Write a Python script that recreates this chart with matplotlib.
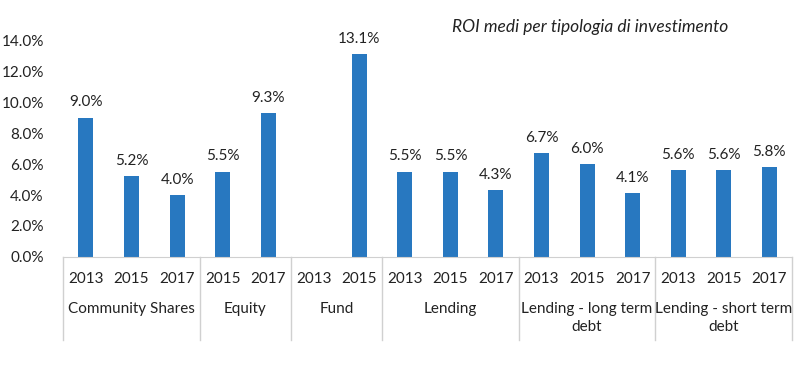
import numpy as np
import matplotlib
matplotlib.use("Agg")
import matplotlib.pyplot as plt
from matplotlib.transforms import blended_transform_factory

plt.rcParams['font.family'] = ['Lato', 'DejaVu Sans']

groups = ["Community Shares", "Equity", "Fund", "Lending",
          "Lending - long term\ndebt", "Lending - short term\ndebt"]
years = [["2013", "2015", "2017"], ["2015", "2017"], ["2013", "2015"],
         ["2013", "2015", "2017"], ["2013", "2015", "2017"], ["2013", "2015", "2017"]]
roi = [[0.090, 0.052, 0.040], [0.055, 0.093], [np.nan, 0.131],
       [0.055, 0.055, 0.043], [0.067, 0.060, 0.041], [0.056, 0.056, 0.058]]

title = "ROI medi per tipologia di investimento"
bar_color = "#2878C0"
line_color = "#D0D0D0"
text_color = "#222222"

fig = plt.figure(figsize=(8, 3.65), dpi=100)
ax = fig.add_axes([0.079, 0.296, 0.911, 0.594])

labels = [y for g in years for y in g]
values = [v for g in roi for v in g]
x = np.arange(len(values))

ax.bar(x, np.nan_to_num(values), width=0.33, color=bar_color, zorder=2)
for xi, v in zip(x, values):
    if np.isnan(v):
        continue
    ax.annotate(f"{v*100:.1f}%", (xi, v), xytext=(0, 6), textcoords="offset points",
                ha="center", va="bottom", fontsize=11, color=text_color)

ax.set_xlim(-0.5, len(values) - 0.5)
ax.set_ylim(0, 0.14)
ax.set_yticks(np.arange(0, 0.141, 0.02))
ax.set_yticklabels([f"{t*100:.1f}%" for t in np.arange(0, 0.141, 0.02)])
ax.set_xticks(x)
ax.set_xticklabels(labels)
ax.tick_params(axis="both", length=0, labelsize=11, colors=text_color)
ax.tick_params(axis="x", pad=11)
ax.tick_params(axis="y", pad=14)

for s in ["top", "right", "left"]:
    ax.spines[s].set_visible(False)
ax.spines["bottom"].set_color(line_color)

trans = blended_transform_factory(ax.transData, ax.transAxes)
start = 0
bounds = [-0.5]
for g, ys in zip(groups, years):
    end = start + len(ys)
    mid = (start + end - 1) / 2
    ax.text(mid, -0.21, g, transform=trans, ha="center", va="top",
            fontsize=11, color=text_color, linespacing=1.3)
    bounds.append(end - 0.5)
    start = end
for b in bounds:
    ax.plot([b, b], [0, -0.385], transform=trans, color=line_color,
            lw=1, clip_on=False)

fig.text(0.565, 0.925, title, ha="left", va="center", fontsize=12.5,
         style="italic", color=text_color)

fig.savefig("out.png", dpi=100)
